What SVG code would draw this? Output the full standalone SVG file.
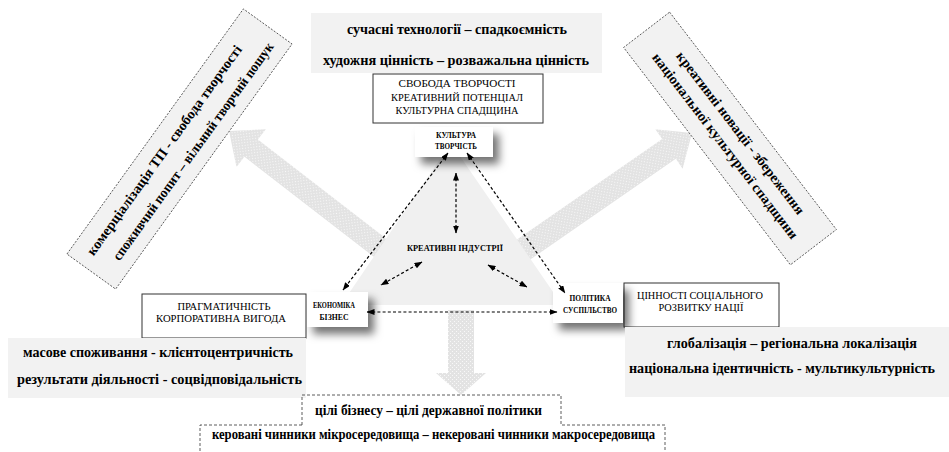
<svg xmlns="http://www.w3.org/2000/svg" width="949" height="452" viewBox="0 0 949 452">
<defs>
<pattern id="dots" width="4" height="4" patternUnits="userSpaceOnUse">
<rect width="4" height="4" fill="#e3e3e3"/>
<rect x="0" y="0" width="1" height="1" fill="#f8f8f8"/>
<rect x="2" y="2" width="1" height="1" fill="#f8f8f8"/>
</pattern>
<filter id="shadow" x="-30%" y="-30%" width="180%" height="200%">
<feDropShadow dx="6" dy="7" stdDeviation="4" flood-color="#000" flood-opacity="0.55"/>
</filter>
<marker id="ah" viewBox="0 0 8 6" refX="7.5" refY="3" markerWidth="8" markerHeight="6" markerUnits="userSpaceOnUse" orient="auto-start-reverse">
<path d="M0,0 L8,3 L0,6 z" fill="#000"/>
</marker>
</defs>
<style>
.gbox{fill:#f2f2f2;stroke:none}
.rbox{fill:#f2f2f2;stroke:#444;stroke-width:0.8;stroke-dasharray:2 1.5}
.wbox{fill:#fff;stroke:#333;stroke-width:1}
.node{fill:#fff;stroke:none}
.big{font-family:"Liberation Serif","DejaVu Serif",serif;font-weight:bold;font-size:14px;fill:#000}
.caps{font-family:"Liberation Serif","DejaVu Serif",serif;font-size:11px;fill:#000}
.lbl{font-family:"Liberation Serif","DejaVu Serif",serif;font-weight:bold;font-size:9px;fill:#000}
.dash{stroke:#000;stroke-width:1.2;stroke-dasharray:3 2.2;fill:none;marker-start:url(#ah);marker-end:url(#ah)}
.arrowbig{fill:url(#dots);stroke:none}
.outline{fill:none;stroke:#333;stroke-width:0.8;stroke-dasharray:3 2}
</style>

<g id="big-arrows">
<polygon class="arrowbig" transform="translate(229,131) rotate(-142.3)" points="-215,-11 -28,-11 -28,-24 0,0 -28,24 -28,11 -215,11"/>
<polygon class="arrowbig" transform="translate(692,133) rotate(-34.7)" points="-220,-12 -28,-12 -28,-24 0,0 -28,24 -28,12 -220,12"/>
<polygon class="arrowbig" transform="translate(461,395) rotate(90)" points="-85,-13 -22,-13 -22,-25 0,0 -22,25 -22,13 -85,13"/>
</g>

<g id="triangle">
<polygon points="451,143 341,305 562,305" fill="#f0f0f0"/>
<text class="lbl" x="455" y="251" text-anchor="middle" textLength="96" lengthAdjust="spacingAndGlyphs">КРЕАТИВНІ ІНДУСТРІЇ</text>
</g>

<g id="top-values">
<rect class="gbox" x="311" y="13" width="291" height="60"/>
<text class="big" x="457" y="34" text-anchor="middle" textLength="220" lengthAdjust="spacingAndGlyphs">сучасні технології – спадкоємність</text>
<text class="big" x="456" y="65" text-anchor="middle" textLength="266" lengthAdjust="spacingAndGlyphs">художня цінність – розважальна цінність</text>
</g>

<g id="culture-values">
<rect class="wbox" x="373" y="74" width="170" height="49"/>
<text class="caps" x="457" y="87" text-anchor="middle" textLength="117" lengthAdjust="spacingAndGlyphs">СВОБОДА ТВОРЧОСТІ</text>
<text class="caps" x="457" y="101" text-anchor="middle" textLength="132" lengthAdjust="spacingAndGlyphs">КРЕАТИВНИЙ ПОТЕНЦІАЛ</text>
<text class="caps" x="457" y="114" text-anchor="middle" textLength="123" lengthAdjust="spacingAndGlyphs">КУЛЬТУРНА СПАДЩИНА</text>
</g>

<g id="culture">
<rect class="node" x="415" y="127" width="78" height="30" filter="url(#shadow)"/>
<text class="lbl" x="456" y="138" text-anchor="middle" textLength="40" lengthAdjust="spacingAndGlyphs">КУЛЬТУРА</text>
<text class="lbl" x="456" y="149" text-anchor="middle" textLength="42" lengthAdjust="spacingAndGlyphs">ТВОРЧІСТЬ</text>
</g>

<g id="left-tension">
<g transform="translate(179.5,149) rotate(-54.25)">
<rect class="rbox" x="-151" y="-30" width="302" height="60"/>
<text class="big" x="-10" y="-7" text-anchor="middle" textLength="255" lengthAdjust="spacingAndGlyphs">комерціалізація ТП - свобода творчості</text>
<text class="big" x="6" y="17" text-anchor="middle" textLength="265" lengthAdjust="spacingAndGlyphs">споживчий попит – вільний творчий пошук</text>
</g>
</g>

<g id="right-tension">
<g transform="translate(730,138.5) rotate(52.5)">
<rect class="rbox" x="-137" y="-29" width="274" height="58"/>
<text class="big" x="2" y="-7" text-anchor="middle" textLength="201" lengthAdjust="spacingAndGlyphs">креативні новації - збереження</text>
<text class="big" x="3" y="13" text-anchor="middle" textLength="230" lengthAdjust="spacingAndGlyphs">національної культурної спадщини</text>
</g>
</g>

<g id="economy-values">
<rect class="wbox" x="142" y="294" width="164" height="44"/>
<text class="caps" x="224" y="309.5" text-anchor="middle" textLength="93" lengthAdjust="spacingAndGlyphs">ПРАГМАТИЧНІСТЬ</text>
<text class="caps" x="221" y="321.5" text-anchor="middle" textLength="130" lengthAdjust="spacingAndGlyphs">КОРПОРАТИВНА ВИГОДА</text>
</g>

<g id="economy">
<rect class="node" x="307" y="292" width="61" height="35" filter="url(#shadow)"/>
<text class="lbl" x="334" y="308" text-anchor="middle" textLength="42" lengthAdjust="spacingAndGlyphs">ЕКОНОМІКА</text>
<text class="lbl" x="334" y="320" text-anchor="middle" textLength="29" lengthAdjust="spacingAndGlyphs">БІЗНЕС</text>
</g>

<g id="economy-tension">
<rect class="gbox" x="8" y="338" width="298" height="60"/>
<text class="big" x="158" y="357" text-anchor="middle" textLength="270" lengthAdjust="spacingAndGlyphs">масове споживання - клієнтоцентричність</text>
<text class="big" x="159.5" y="384" text-anchor="middle" textLength="285" lengthAdjust="spacingAndGlyphs">результати діяльності - соцвідповідальність</text>
</g>

<g id="policy-values">
<rect class="wbox" x="624" y="283" width="155" height="44"/>
<text class="caps" x="700" y="299" text-anchor="middle" textLength="126" lengthAdjust="spacingAndGlyphs">ЦІННОСТІ СОЦІАЛЬНОГО</text>
<text class="caps" x="701" y="311" text-anchor="middle" textLength="85" lengthAdjust="spacingAndGlyphs">РОЗВИТКУ НАЦІЇ</text>
</g>

<g id="policy">
<rect class="node" x="553" y="283" width="70" height="40" filter="url(#shadow)"/>
<text class="lbl" x="590" y="301" text-anchor="middle" textLength="41" lengthAdjust="spacingAndGlyphs">ПОЛІТИКА</text>
<text class="lbl" x="590" y="312.5" text-anchor="middle" textLength="54" lengthAdjust="spacingAndGlyphs">СУСПІЛЬСТВО</text>
</g>

<g id="policy-tension">
<rect class="gbox" x="625" y="327" width="324" height="70"/>
<text class="big" x="792" y="348" text-anchor="middle" textLength="250" lengthAdjust="spacingAndGlyphs">глобалізація – регіональна локалізація</text>
<text class="big" x="782" y="373" text-anchor="middle" font-size="13" textLength="306" lengthAdjust="spacingAndGlyphs">національна ідентичність - мультикультурність</text>
</g>

<g id="goals">
<path class="outline" d="M302,425 V395 H561 V425 H665 V452 M302,425 H200 V452"/>
<text class="big" x="428.5" y="415" text-anchor="middle" textLength="227" lengthAdjust="spacingAndGlyphs">цілі бізнесу – цілі державної політики</text>
<text class="big" x="433.5" y="439" text-anchor="middle" textLength="443" lengthAdjust="spacingAndGlyphs">керовані чинники мікросередовища – некеровані чинники макросередовища</text>
</g>

<g id="connectors">
<line class="dash" x1="448" y1="153" x2="343" y2="290"/>
<line class="dash" x1="467" y1="153" x2="565" y2="293"/>
<line class="dash" x1="456" y1="173" x2="456" y2="233"/>
<line class="dash" x1="422" y1="262" x2="381" y2="285"/>
<line class="dash" x1="488" y1="265" x2="527" y2="287"/>
<line class="dash" x1="367" y1="312" x2="557" y2="312"/>
</g>
</svg>
